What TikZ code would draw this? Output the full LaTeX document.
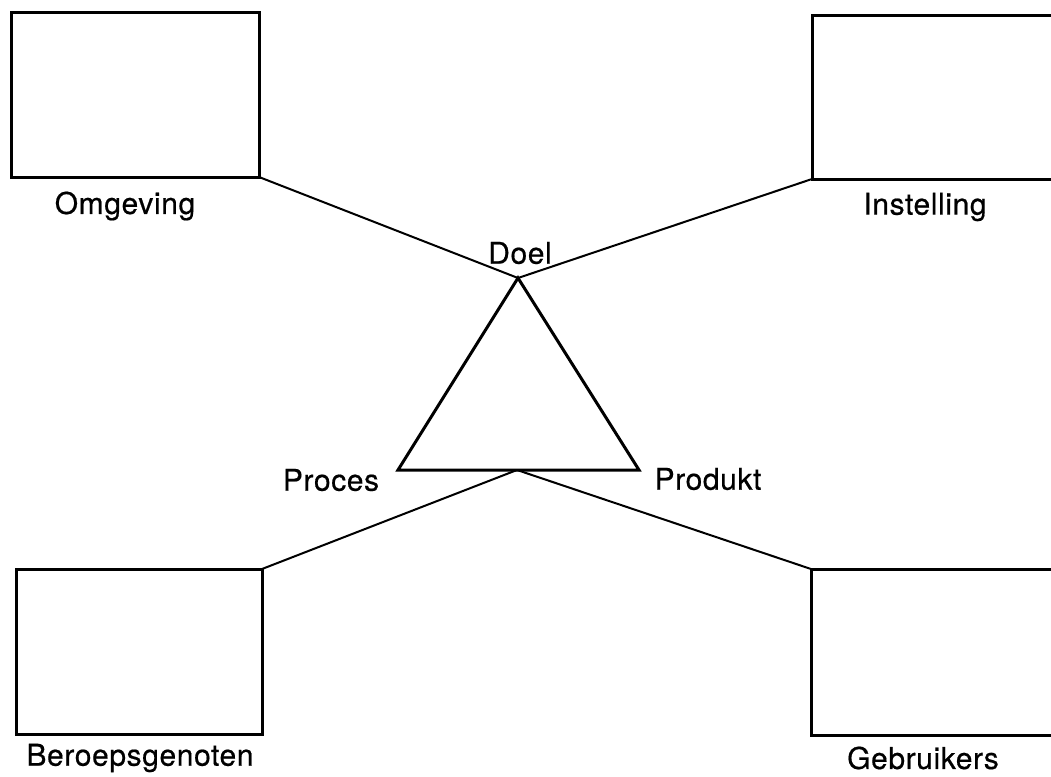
\documentclass[tikz,border=0pt]{standalone}
\usepackage{fontspec}
\setmainfont{TeX Gyre Heros}[FakeBold=0.5,LetterSpace=2]
\begin{document}
\begin{tikzpicture}[x=1pt,y=-1pt,
  lbl/.style={font=\fontsize{30}{34}\selectfont,inner sep=0pt},
  conn/.style={line width=2pt},
  boxline/.style={line width=3pt}]
\useasboundingbox (0,0) rectangle (1051,776);
\clip (0,0) rectangle (1051,776);
% boxes
\draw[boxline] (11,13) rectangle (259,177);
\draw[boxline] (812,16) rectangle (1052,179);
\draw[boxline] (16,569) rectangle (262,734);
\draw[boxline] (811,569) rectangle (1052,735);
\coordinate (tl) at (259,177);
\coordinate (tr) at (812,179);
\coordinate (bl) at (262,569);
\coordinate (br) at (811,569);
% triangle
\coordinate (apex) at (518,278);
\coordinate (tbl) at (398,470);
\coordinate (tbr) at (639,470);
\coordinate (tbm) at (517,470);
\draw[boxline,line join=miter] (apex) -- (tbl) -- (tbr) -- cycle;
% connectors
\draw[conn] (tl) -- (apex);
\draw[conn] (tr) -- (apex);
\draw[conn] (bl) -- (tbm);
\draw[conn] (br) -- (tbm);
% labels
\node[lbl] (omg) at (125,206) {Omgeving};
\node[lbl] (ins) at (925,207) {Instelling};
\node[lbl] (ber) at (140,758) {Beroepsgenoten};
\node[lbl] (geb) at (923,758) {Gebruikers};
\node[lbl] (doel) at (520,253) {Doel};
\node[lbl] (proc) at (331,480) {Proces};
\node[lbl] (prod) at (708,479) {Produkt};
\end{tikzpicture}
\end{document}
